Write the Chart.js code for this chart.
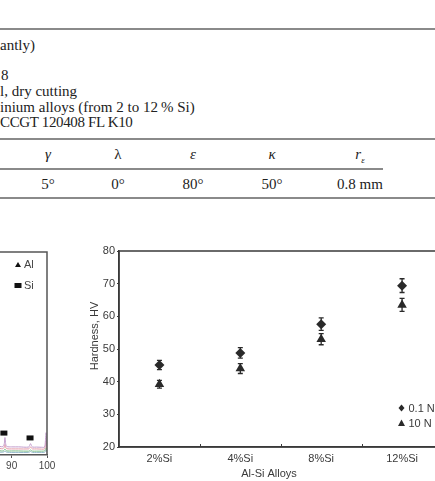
<!DOCTYPE html>
<html>
<head>
<meta charset="utf-8">
<script src="https://cdn.jsdelivr.net/npm/chart.js@4/dist/chart.umd.min.js"></script>
<style>
  html, body { margin:0; padding:0; background:#fff; width:435px; height:481px; overflow:hidden; position:relative; }
  .t { position:absolute; font-family:"Liberation Serif", "Times New Roman", serif; font-size:15px; color:#222; white-space:nowrap; line-height:1; }
  .rule { position:absolute; height:1.5px; background:#8a8a8a; }
  .c { transform:translateX(-50%); }
  canvas { position:absolute; }
</style>
</head>
<body>
<!-- table fragment -->
<div class="rule" style="left:0;top:28px;width:435px;"></div>
<div class="t" style="left:0;top:38px;">antly)</div>
<div class="t" style="left:1px;top:68px;">8</div>
<div class="t" style="left:0;top:84px;">l, dry cutting</div>
<div class="t" style="left:0;top:100px;">inium alloys (from 2 to 12&#8201;% Si)</div>
<div class="t" style="left:0;top:115px;letter-spacing:-0.35px;">CCGT 120408 FL K10</div>
<div class="rule" style="left:0;top:138px;width:435px;"></div>
<div class="t c" style="left:48px;top:147px;font-style:italic;">γ</div>
<div class="t c" style="left:118px;top:147px;">λ</div>
<div class="t c" style="left:193px;top:147px;font-style:italic;">ε</div>
<div class="t c" style="left:272px;top:147px;font-style:italic;">κ</div>
<div class="t c" style="left:360px;top:147px;font-style:italic;">r<sub style="font-size:9px;">ε</sub></div>
<div class="rule" style="left:0;top:168px;width:383px;"></div>
<div class="t c" style="left:48px;top:177px;">5°</div>
<div class="t c" style="left:118px;top:177px;">0°</div>
<div class="t c" style="left:193px;top:177px;">80°</div>
<div class="t c" style="left:272px;top:177px;">50°</div>
<div class="t" style="left:337px;top:177px;">0.8 mm</div>
<div class="rule" style="left:0;top:197px;width:435px;"></div>

<canvas id="xrd" width="62" height="241" style="left:0;top:240px;"></canvas>
<canvas id="hv" width="360" height="241" style="left:88px;top:240px;"></canvas>

<script>
// ---------- Hardness data ----------
const alloys = ['2%Si', '4%Si', '8%Si', '12%Si'];
const hv01 = [45.1, 48.8, 57.6, 69.4];
const hv01Err = [1.4, 1.6, 1.9, 2.1];
const hv10 = [39.2, 44.0, 53.0, 63.5];
const hv10Err = [1.2, 1.5, 1.7, 2.0];
const hvTicks = [20, 30, 40, 50, 60, 70, 80];
const hvLegend = ['0.1 N', '10 N'];
const hvYTitle = 'Hardness, HV';
const hvXTitle = 'Al-Si Alloys';

// ---------- XRD fragment data (2θ, right end of pattern) ----------
const twoTheta = [86.7, 87.5, 87.9, 88.1, 88.3, 88.6, 90.0, 92.0, 94.8, 95.1, 95.35, 95.6, 95.9, 97.0, 98.5, 99.3, 99.55, 99.75, 99.95, 100.0];
const xrdA = [4.2, 4.1, 5.5, 8.6, 5.6, 4.2, 4.0, 4.0, 3.9, 4.8, 5.6, 4.6, 3.9, 3.9, 3.8, 3.9, 7.0, 11.0, 6.0, 4.0];
const xrdB = [3.2, 3.1, 3.8, 5.2, 3.9, 3.1, 3.0, 3.0, 3.0, 3.5, 4.0, 3.4, 3.0, 3.0, 2.9, 3.0, 4.8, 7.0, 4.2, 3.0];
const xrdC = [2.1, 2.0, 2.4, 3.0, 2.4, 2.0, 2.0, 2.0, 1.9, 2.2, 2.5, 2.2, 1.9, 1.9, 1.9, 2.0, 2.8, 3.6, 2.6, 2.0];
const xrdD = [1.4, 1.4, 1.6, 2.0, 1.6, 1.4, 1.3, 1.3, 1.3, 1.5, 1.7, 1.5, 1.3, 1.3, 1.3, 1.3, 1.9, 2.4, 1.8, 1.3];
const siPeaks2Theta = [87.8, 95.2];
const siPeaksY = [10.8, 8.4];
const xrdTicks = [90, 100];
const xrdLegend = ['Al', 'Si'];

const INK = '#3a3a3a';
const FONT = '"Liberation Sans", Arial, sans-serif';
Chart.defaults.font.family = FONT;
Chart.defaults.color = INK;
Chart.defaults.animation = false;

// ---------- hardness chart ----------
const errorBars = {
  id: 'errorBars',
  afterDatasetsDraw(chart) {
    const ctx = chart.ctx, ys = chart.scales.y, xs = chart.scales.x;
    const sets = [[hv01, hv01Err], [hv10, hv10Err]];
    ctx.save();
    ctx.strokeStyle = '#2a2a2a';
    ctx.lineWidth = 1.3;
    sets.forEach(([vals, errs]) => {
      vals.forEach((v, i) => {
        const x = xs.getPixelForValue(i);
        const y1 = ys.getPixelForValue(v + errs[i]);
        const y2 = ys.getPixelForValue(v - errs[i]);
        ctx.beginPath();
        ctx.moveTo(x, y1); ctx.lineTo(x, y2);
        ctx.moveTo(x - 2.5, y1); ctx.lineTo(x + 2.5, y1);
        ctx.moveTo(x - 2.5, y2); ctx.lineTo(x + 2.5, y2);
        ctx.stroke();
      });
    });
    ctx.restore();
  }
};
const frameAndLegend = {
  id: 'frameAndLegend',
  afterDraw(chart) {
    const ctx = chart.ctx, a = chart.chartArea, xs = chart.scales.x;
    ctx.save();
    ctx.strokeStyle = INK;
    ctx.lineWidth = 1.5;
    ctx.strokeRect(a.left, a.top, a.right - a.left, a.bottom - a.top);
    // inward ticks between categories
    ctx.lineWidth = 1;
    ctx.beginPath();
    for (let i = 1; i < alloys.length; i++) {
      const x = Math.round((xs.getPixelForValue(i - 1) + xs.getPixelForValue(i)) / 2) + 0.5;
      ctx.moveTo(x, a.bottom); ctx.lineTo(x, a.bottom - 3);
    }
    ctx.stroke();
    // axis titles
    ctx.fillStyle = INK;
    ctx.font = '11px ' + FONT;
    ctx.textAlign = 'center';
    ctx.textBaseline = 'middle';
    ctx.fillText(hvXTitle, a.left + 150, a.bottom + 27);
    ctx.translate(7, a.top + 85);
    ctx.rotate(-Math.PI / 2);
    ctx.fillText(hvYTitle, 0, 0);
    ctx.setTransform(1, 0, 0, 1, 0, 0);
    // legend
    ctx.fillStyle = '#2a2a2a';
    const lx = a.right - 41;
    const rows = [a.top + 157, a.top + 172];
    ctx.beginPath();
    ctx.moveTo(lx, rows[0] - 3.5); ctx.lineTo(lx + 3, rows[0]); ctx.lineTo(lx, rows[0] + 3.5); ctx.lineTo(lx - 3, rows[0]);
    ctx.closePath(); ctx.fill();
    ctx.beginPath();
    ctx.moveTo(lx, rows[1] - 3.5); ctx.lineTo(lx + 3.5, rows[1] + 3); ctx.lineTo(lx - 3.5, rows[1] + 3);
    ctx.closePath(); ctx.fill();
    ctx.fillStyle = INK;
    ctx.textAlign = 'left';
    ctx.fillText(hvLegend[0], lx + 7, rows[0] + 0.5);
    ctx.fillText(hvLegend[1], lx + 7, rows[1] + 0.5);
    ctx.restore();
  }
};

new Chart(document.getElementById('hv'), {
  type: 'line',
  data: {
    labels: alloys,
    datasets: [
      { label: hvLegend[0], data: hv01, showLine: false, pointStyle: 'rectRot', pointRadius: 5, pointBackgroundColor: '#2a2a2a', pointBorderColor: '#2a2a2a', pointBorderWidth: 0 },
      { label: hvLegend[1], data: hv10, showLine: false, pointStyle: 'triangle', pointRadius: 5.5, pointBackgroundColor: '#2a2a2a', pointBorderColor: '#2a2a2a', pointBorderWidth: 0 }
    ]
  },
  options: {
    responsive: false,
    devicePixelRatio: 1,
    layout: { padding: { top: 11, right: 4, left: 0, bottom: 0 } },
    plugins: { legend: { display: false }, tooltip: { enabled: false } },
    scales: {
      x: {
        type: 'category',
        offset: true,
        grid: { display: false, drawTicks: false, tickLength: 0 },
        border: { display: true, color: INK, width: 1.5 },
        ticks: { font: { size: 11 }, color: INK, padding: 5 },
        afterFit(s) { s.height = 34; }
      },
      y: {
        min: 20, max: 80,
        afterBuildTicks(s) { s.ticks = hvTicks.map(v => ({ value: v })); },
        grid: { display: true, drawOnChartArea: false, tickLength: 2, color: INK },
        border: { display: true, color: INK, width: 1.5 },
        ticks: { font: { size: 11 }, color: INK, padding: 2 },
        afterFit(s) { s.width = 31; }
      }
    }
  },
  plugins: [errorBars, frameAndLegend]
});

// ---------- XRD fragment ----------
const xrdDecor = {
  id: 'xrdDecor',
  afterDraw(chart) {
    const ctx = chart.ctx, a = chart.chartArea, xs = chart.scales.x, ys = chart.scales.y;
    ctx.save();
    ctx.strokeStyle = '#555';
    ctx.lineWidth = 1.5;
    ctx.beginPath();
    ctx.moveTo(a.left - 2, a.top); ctx.lineTo(a.right, a.top); ctx.lineTo(a.right, a.bottom);
    ctx.stroke();
    ctx.fillStyle = '#111';
    siPeaks2Theta.forEach((t, i) => {
      const x = xs.getPixelForValue(t), y = ys.getPixelForValue(siPeaksY[i]);
      ctx.fillRect(x - 3.5, y - 2.5, 7, 5);
    });
    const lx = a.left + 18;
    ctx.beginPath();
    ctx.moveTo(lx, a.top + 10); ctx.lineTo(lx + 3, a.top + 15); ctx.lineTo(lx - 3, a.top + 15);
    ctx.closePath(); ctx.fill();
    ctx.fillRect(lx - 3.5, a.top + 31, 7, 5);
    ctx.fillStyle = '#444';
    ctx.font = '11px ' + FONT;
    ctx.textBaseline = 'middle';
    ctx.fillText(xrdLegend[0], lx + 6, a.top + 13);
    ctx.fillText(xrdLegend[1], lx + 6, a.top + 34);
    ctx.restore();
  }
};
const mk = (d, c) => ({ data: twoTheta.map((t, i) => ({ x: t, y: d[i] })), borderColor: c, borderWidth: 1, pointRadius: 0, tension: 0.3 });
new Chart(document.getElementById('xrd'), {
  type: 'line',
  data: { datasets: [mk(xrdA, '#c29ccc'), mk(xrdB, '#e39aa8'), mk(xrdC, '#7fbf8a'), mk(xrdD, '#8fb5c8')] },
  options: {
    responsive: false,
    devicePixelRatio: 1,
    layout: { padding: { top: 12, right: 15, left: 0, bottom: 0 } },
    plugins: { legend: { display: false }, tooltip: { enabled: false } },
    scales: {
      x: {
        type: 'linear', min: 86.7, max: 100,
        afterBuildTicks(s) { s.ticks = xrdTicks.map(v => ({ value: v })); },
        grid: { display: true, drawOnChartArea: false, tickLength: 3, color: '#555' },
        border: { display: true, color: '#555', width: 1.5 },
        ticks: { font: { size: 10 }, color: '#444', padding: 2, maxRotation: 0, autoSkip: false },
        afterFit(s) { s.height = 26; }
      },
      y: { display: false, min: 0, max: 100 }
    }
  },
  plugins: [xrdDecor]
});
</script>
</body>
</html>
